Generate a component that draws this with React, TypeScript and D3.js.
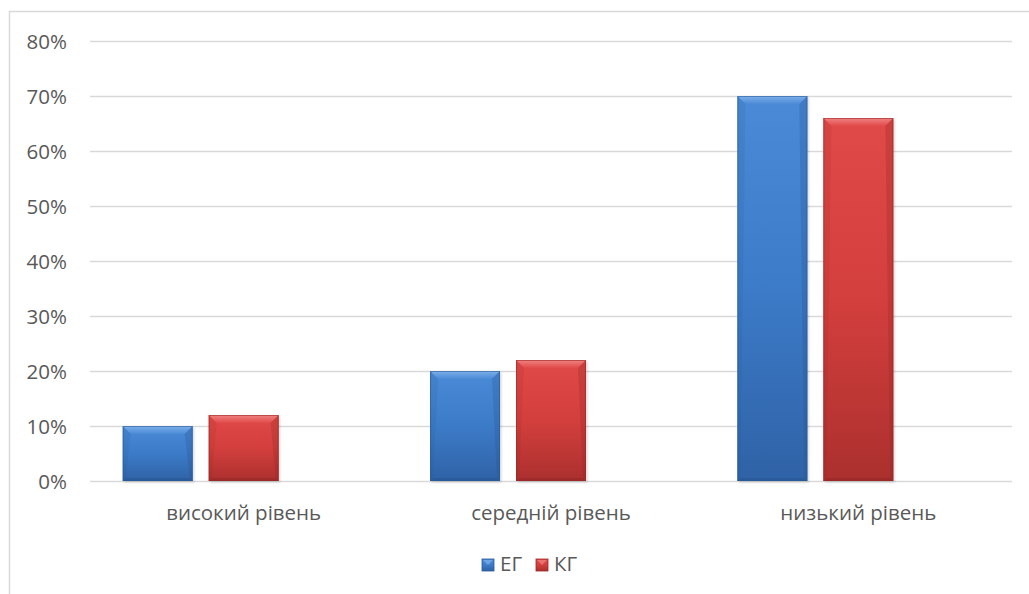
import React from "react";
import * as d3 from "d3";

const categories = ["високий рівень", "середній рівень", "низький рівень"];
const seriesNames = ["ЕГ", "КГ"];
const egValues = [0.10, 0.20, 0.70];
const kgValues = [0.12, 0.22, 0.66];
const yTicks = [0, 0.1, 0.2, 0.3, 0.4, 0.5, 0.6, 0.7, 0.8];

const W = 1029;
const H = 594;
const FONT = "'Open Sans', sans-serif";
const TEXT = "#595959";
const FS = 20.5;

const palettes = [
  { top: "#4a8ad6", mid: "#3c7bc8", bot: "#2f62a6", bevel: "#7fb0ea", edge: "#24508a", stroke: "#2a5a98" },
  { top: "#e04a48", mid: "#d33f3d", bot: "#ab302e", bevel: "#f08482", edge: "#8a2422", stroke: "#9a2a28" },
];

export default function App() {
  const plotLeft = 90, plotRight = 1012, plotTop = 41, plotBottom = 481;
  const x = d3.scaleBand<string>().domain(categories).range([plotLeft, plotRight]);
  const y = d3.scaleLinear().domain([0, 0.8]).range([plotBottom, plotTop]);
  const bw = x.bandwidth();
  const pad = 32.7;
  const inner = d3
    .scaleBand<string>()
    .domain([...seriesNames, "_"])
    .range([pad, bw - pad])
    .paddingInner(0.186)
    .paddingOuter(0);
  const barW = inner.bandwidth();
  const data = [egValues, kgValues];
  const fmt = d3.format(".0%");

  const bars: React.ReactNode[] = [];
  data.forEach((vals, si) => {
    const p = palettes[si];
    vals.forEach((v, ci) => {
      const x0 = (x(categories[ci]) as number) + (inner(seriesNames[si]) as number);
      const y0 = y(v);
      const h = y(0) - y0;
      const b = 8;
      bars.push(
        <g key={`${si}-${ci}`}>
          <rect x={x0 + 1.5} y={y0 + 1.5} width={barW} height={h} fill="#000" opacity={0.15} filter="url(#blur)" />
          <rect x={x0} y={y0} width={barW} height={h} fill={`url(#grad${si})`} />
          <polygon
            points={`${x0},${y0} ${x0 + barW},${y0} ${x0 + barW - b},${y0 + b} ${x0 + b},${y0 + b}`}
            fill={`url(#bevel${si})`}
          />
          <polygon
            points={`${x0 + barW},${y0} ${x0 + barW},${y0 + h} ${x0 + barW - 3},${y0 + h - 3} ${x0 + barW - b},${y0 + b}`}
            fill={p.edge}
            opacity={0.25}
          />
          <polygon
            points={`${x0},${y0} ${x0 + b},${y0 + b} ${x0 + 3},${y0 + h - 3} ${x0},${y0 + h}`}
            fill={p.edge}
            opacity={0.12}
          />
          <polygon
            points={`${x0},${y0 + h} ${x0 + barW},${y0 + h} ${x0 + barW - 3},${y0 + h - 3} ${x0 + 3},${y0 + h - 3}`}
            fill={p.edge}
            opacity={0.4}
          />
          <rect x={x0 + 0.5} y={y0 + 0.5} width={barW - 1} height={h - 1} fill="none" stroke={p.stroke} strokeOpacity={0.6} strokeWidth={1} />
        </g>
      );
    });
  });

  const legendItems = [
    { name: seriesNames[0], sx: 482, tx: 500 },
    { name: seriesNames[1], sx: 536, tx: 554 },
  ];

  return (
    <svg
      width={W}
      height={H}
      style={{ position: "absolute", left: 0, top: 0, background: "#fff" }}
      fontFamily={FONT}
    >
      <defs>
        {palettes.map((p, i) => (
          <React.Fragment key={i}>
            <linearGradient id={`grad${i}`} x1="0" y1="0" x2="0" y2="1">
              <stop offset="0" stopColor={p.top} />
              <stop offset="0.5" stopColor={p.mid} />
              <stop offset="1" stopColor={p.bot} />
            </linearGradient>
            <linearGradient id={`bevel${i}`} x1="0" y1="0" x2="0" y2="1">
              <stop offset="0" stopColor={p.bevel} />
              <stop offset="1" stopColor={p.top} />
            </linearGradient>
          </React.Fragment>
        ))}
        <filter id="blur" x="-20%" y="-20%" width="140%" height="140%">
          <feGaussianBlur stdDeviation="1.2" />
        </filter>
      </defs>
      <rect x={9.5} y={11.5} width={1040} height={620} fill="#fff" stroke="#d9d9d9" strokeWidth={1.5} />
      {yTicks.map((t) => (
        <g key={t}>
          <line x1={plotLeft} x2={plotRight} y1={Math.round(y(t)) + 0.5} y2={Math.round(y(t)) + 0.5} stroke="#d9d9d9" strokeWidth={1.5} />
          <text x={67} y={y(t) + 7.6} textAnchor="end" fontSize={FS} fill={TEXT}>
            {fmt(t)}
          </text>
        </g>
      ))}
      {bars}
      {categories.map((c) => (
        <text key={c} x={(x(c) as number) + bw / 2} y={520} textAnchor="middle" fontSize={FS} fill={TEXT}>
          {c}
        </text>
      ))}
      {legendItems.map((it, i) => (
        <g key={it.name}>
          <rect x={it.sx} y={559} width={12} height={12} fill={`url(#grad${i})`} stroke={palettes[i].stroke} strokeWidth={0.8} />
          <polygon points={`${it.sx + 1},${560} ${it.sx + 11},${560} ${it.sx + 6},${565}`} fill={palettes[i].bevel} opacity={0.7} />
          <text x={it.tx} y={571} fontSize={FS} fill={TEXT}>
            {it.name}
          </text>
        </g>
      ))}
    </svg>
  );
}
